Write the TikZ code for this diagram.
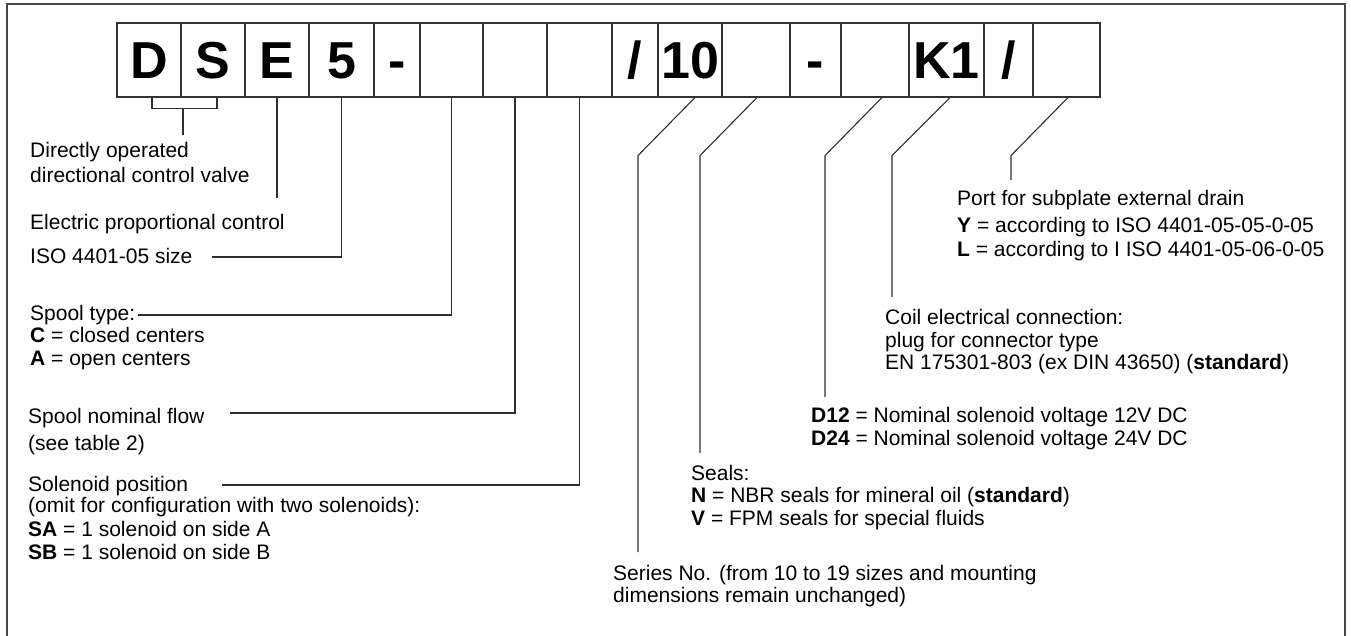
\documentclass[tikz,border=0pt]{standalone}
\usepackage{fontspec}
\setmainfont{Liberation Sans}
\begin{document}
\begin{tikzpicture}[x=1pt,y=-1pt,
  frame/.style={draw=black!72, line width=1.6pt},
  cell/.style={draw=black!80, line width=1.1pt, minimum height=74pt, inner sep=0pt,
    text height=37pt, text depth=0pt, font=\fontsize{52}{52}\selectfont\bfseries},
  lead/.style={draw=black!82, line width=1.1pt},
  txt/.style={inner sep=0pt, anchor=base west, align=left, font=\fontsize{21}{23}\selectfont}]
\useasboundingbox (0,0) rectangle (1351,635);
% frame (open at the bottom)
\draw[frame] (7,660) -- (7,4) -- (1345,4) -- (1345,660);
% code boxes
\node[cell, minimum width=64pt] (b1) at (149,60) {D};
\node[cell, minimum width=64pt] (b2) at (213,60) {S};
\node[cell, minimum width=64pt] (b3) at (277,60) {E};
\node[cell, minimum width=65pt] (b4) at (341.5,60) {5};
\node[cell, minimum width=46pt] (b5) at (397,60) {-};
\node[cell, minimum width=63pt] (b6) at (451.5,60) {};
\node[cell, minimum width=64pt] (b7) at (515,60) {};
\node[cell, minimum width=65pt] (b8) at (579.5,60) {};
\node[cell, minimum width=46pt] (b9) at (635,60) {/};
\node[cell, minimum width=64pt] (b10) at (690,60) {10};
\node[cell, minimum width=68pt] (b11) at (756,60) {};
\node[cell, minimum width=51pt] (b12) at (815.5,60) {-};
\node[cell, minimum width=68pt] (b13) at (875,60) {};
\node[cell, minimum width=75pt] (b14) at (946.5,60) {K1};
\node[cell, minimum width=49pt] (b15) at (1008.5,60) {/};
\node[cell, minimum width=67pt] (b16) at (1066.5,60) {};
% texts, left column (anchor = baseline of the last line)
\node[txt] (tdir) at (30,182) {Directly operated\\[2pt]directional control valve};
\node[txt] (telec) at (30,229) {Electric proportional control};
\node[txt] (tiso) at (30,263) {ISO 4401-05 size};
\node[txt] (tspt) at (30,365) {Spool type:\\[-0.5pt]\textbf{C} = closed centers\\[-0.5pt]\textbf{A} = open centers};
\node[txt] (tsnf) at (28,450) {Spool nominal flow\\[4pt](see table 2)};
\node[txt] (tsol) at (28,559) {Solenoid position\\[-2pt](omit for configuration with two solenoids):\\[1pt]\textbf{SA} = 1 solenoid on side A\\\textbf{SB} = 1 solenoid on side B};
% texts, right part
\node[txt] (tser) at (613,602) {Series No. (from 10 to 19 sizes and mounting\\[-1pt]dimensions remain unchanged)};
\node[txt] (tseal) at (691,525) {Seals:\\[-0.5pt]\textbf{N} = NBR seals for mineral oil (\textbf{standard})\\[-0.5pt]\textbf{V} = FPM seals for special fluids};
\node[txt] (td12) at (811,445) {\textbf{D12} = Nominal solenoid voltage 12V DC\\\textbf{D24} = Nominal solenoid voltage 24V DC};
\node[txt] (tcoil) at (885,369) {Coil electrical connection:\\plug for connector type\\[-1pt]EN 175301-803 (ex DIN 43650) (\textbf{standard})};
\node[txt] (tport) at (957,256) {Port for subplate external drain\\[4pt]\textbf{Y} = according to ISO 4401-05-05-0-05\\[1pt]\textbf{L} = according to I ISO 4401-05-06-0-05};
% leader end points
\coordinate (brk) at (183,108);
\coordinate (edir) at (183,135);
\coordinate (eelec) at (277,198);
\coordinate (eiso) at (212,257);
\coordinate (espt) at (138,315);
\coordinate (esnf) at (230,413);
\coordinate (esol) at (222,485);
\coordinate (eser) at (638,552);
\coordinate (eseal) at (700,453);
\coordinate (ed12) at (825,397);
\coordinate (ecoil) at (892,297);
\coordinate (eport) at (1011,180);
% leaders
\draw[lead] ([xshift=3pt]b1.south) -- ++(0,11) -| ([xshift=4pt]b2.south);
\draw[lead] (brk) -- (edir);
\draw[lead] (b3.south) -- (eelec);
\draw[lead] (b4.south) |- (eiso);
\draw[lead] (b6.south) |- (espt);
\draw[lead] (b7.south) |- (esnf);
\draw[lead] (b8.south) |- (esol);
\draw[lead] ([xshift=5pt]b10.south) -- ++(-57,58) -- (eser);
\draw[lead] ([xshift=1pt]b11.south) -- ++(-57,58) -- (eseal);
\draw[lead] ([xshift=7pt]b13.south) -- ++(-57,58) -- (ed12);
\draw[lead] ([xshift=3.5pt]b14.south) -- ++(-58,58) -- (ecoil);
\draw[lead] ([xshift=1.5pt]b16.south) -- ++(-57,58) -- (eport);
\end{tikzpicture}
\end{document}
